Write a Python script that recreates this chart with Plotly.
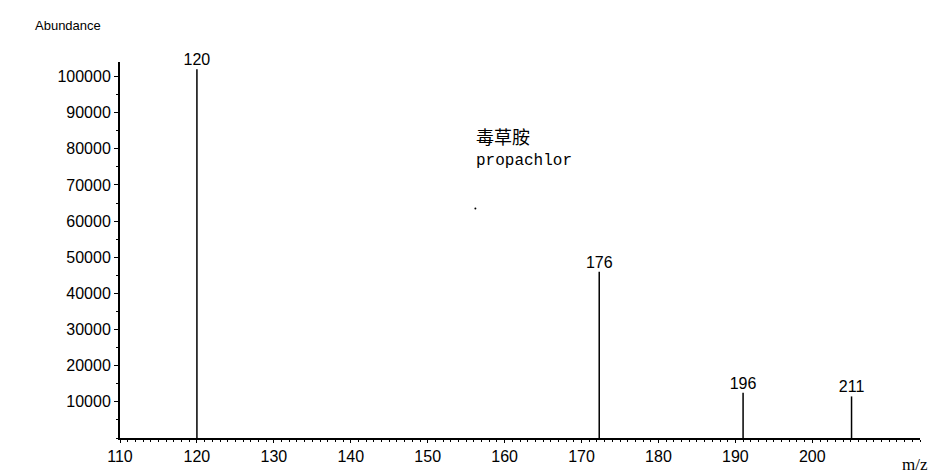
import plotly.graph_objects as go

# peak positions (as drawn), heights and printed labels
mz = [120, 172.3, 191.0, 205.1]
abundance = [102000, 46000, 12500, 11500]
peak_labels = ["120", "176", "196", "211"]
x_ticks = list(range(110, 201, 10))
y_ticks = [10000 * i for i in range(1, 11)]

xs, ys = [], []
for x, y in zip(mz, abundance):
    xs += [x, x, None]
    ys += [0, y, None]

fig = go.Figure()
fig.add_trace(go.Scatter(x=xs, y=ys, mode="lines", line=dict(color="black", width=1.5),
                         hoverinfo="skip", showlegend=False))
fig.add_trace(go.Scatter(x=mz, y=abundance, mode="text", text=peak_labels,
                         textposition="top center", cliponaxis=False,
                         textfont=dict(family="Liberation Sans", size=16, color="black"),
                         showlegend=False))
# stray dot from the original
fig.add_trace(go.Scatter(x=[156.2], y=[63500], mode="markers",
                         marker=dict(color="black", size=2), showlegend=False))

fig.update_layout(
    width=929, height=467,
    margin=dict(l=112, r=17, t=54, b=37, autoexpand=False),
    plot_bgcolor="white", paper_bgcolor="white",
    font=dict(family="Liberation Sans", size=16, color="black"),
    xaxis=dict(range=[110, 214], tickvals=x_ticks, showgrid=False, zeroline=False,
               showline=True, linecolor="black", linewidth=2, ticks="outside",
               ticklen=3, tickcolor="black",
               minor=dict(dtick=1, tick0=110, ticks="outside", ticklen=2, tickcolor="black")),
    yaxis=dict(range=[0, 104000], tickvals=y_ticks, ticktext=[str(v) for v in y_ticks],
               showgrid=False, zeroline=False, showline=True, linecolor="black",
               linewidth=2, ticks="outside", ticklen=4, tickcolor="black",
               minor=dict(dtick=5000, ticks="outside", ticklen=2, tickcolor="black")),
    annotations=[
        dict(text="Abundance", xref="paper", yref="paper", x=-0.109, y=1.072,
             xanchor="left", yanchor="bottom", showarrow=False,
             font=dict(size=13)),
        dict(text="毒草胺", xref="paper", yref="y", x=0.443, y=83500,
             xanchor="left", showarrow=False,
             font=dict(family="Noto Sans CJK SC", size=18)),
        dict(text="propachlor", xref="paper", yref="y", x=0.443, y=76500,
             xanchor="left", showarrow=False,
             font=dict(family="Liberation Mono", size=16)),
        dict(text="m/z", xref="paper", yref="paper", x=1.012, y=-0.04,
             xanchor="right", yanchor="top", showarrow=False,
             font=dict(family="Liberation Serif", size=17)),
    ],
)

fig.write_html("out.html")
